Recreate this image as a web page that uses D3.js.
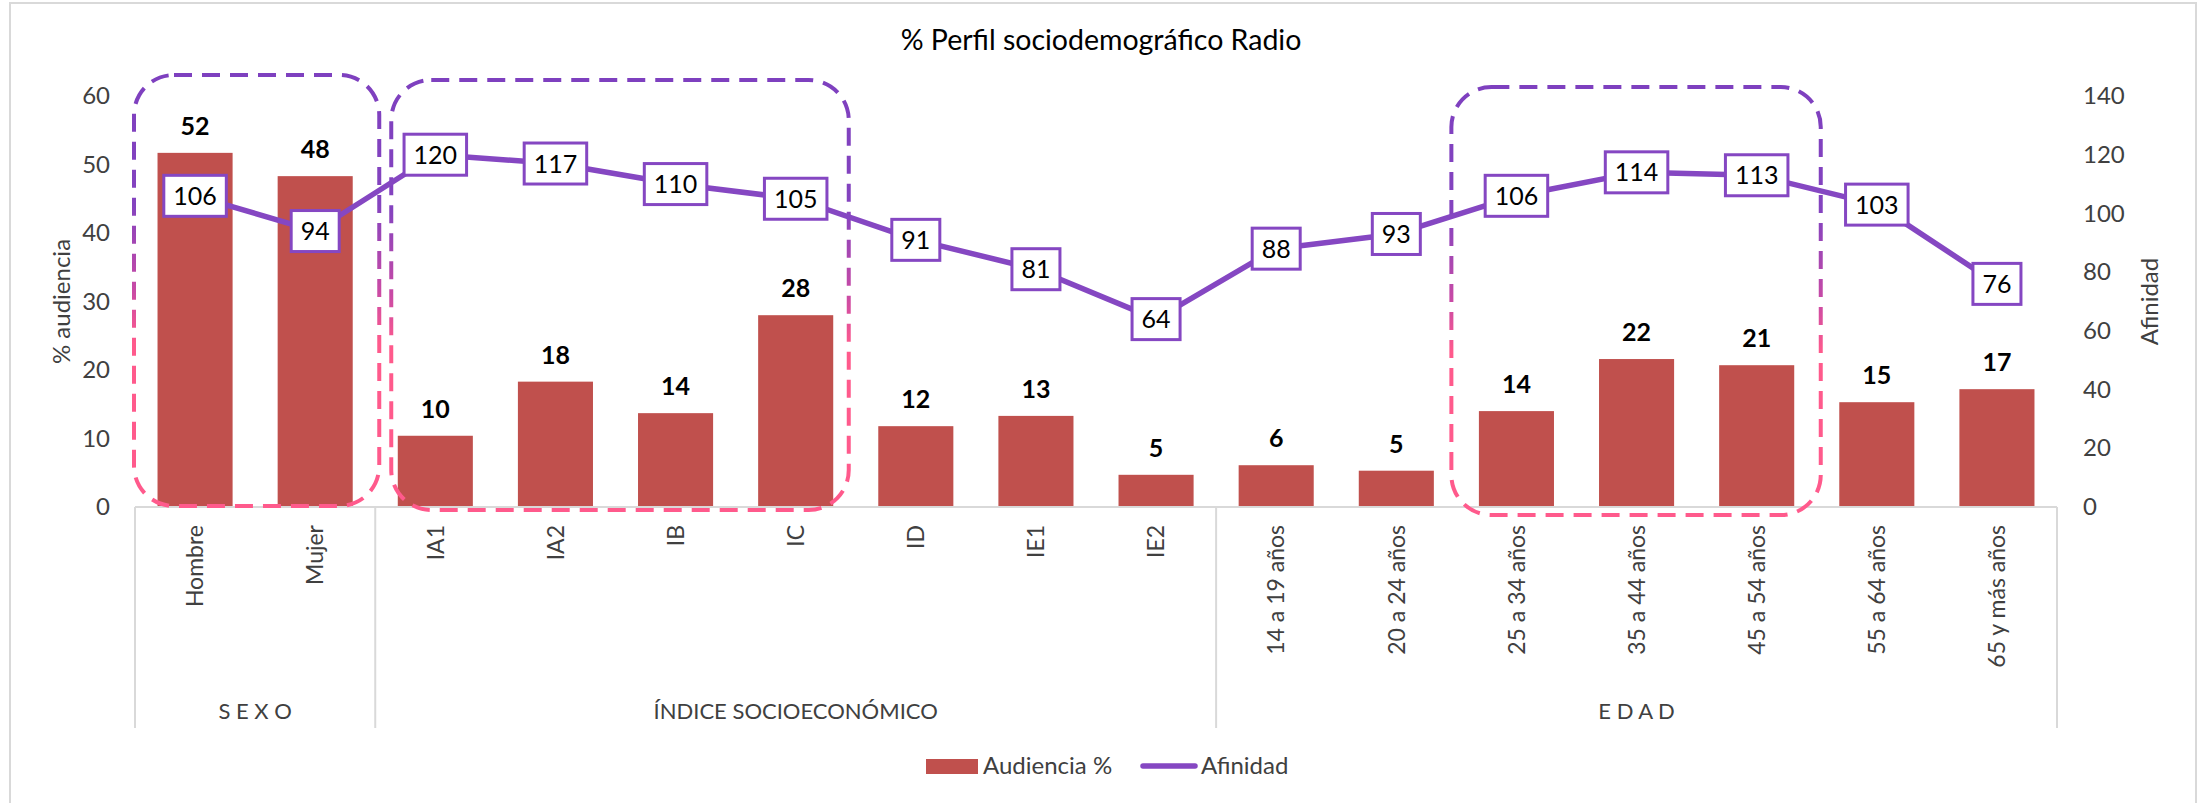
<!DOCTYPE html>
<html><head><meta charset="utf-8">
<script src="https://cdn.jsdelivr.net/npm/d3@7"></script>
<style>
body{margin:0;background:#fff;}
svg{display:block;}
text{font-family:Lato,"Open Sans",sans-serif;}
</style>
</head><body>
<svg id="chart" width="2204" height="803"></svg>
<script>
const categories = ["Hombre","Mujer","IA1","IA2","IB","IC","ID","IE1","IE2","14 a 19 años","20 a 24 años","25 a 34 años","35 a 44 años","45 a 54 años","55 a 64 años","65 y más años"];
const groupNames = ["S E X O","ÍNDICE SOCIOECONÓMICO","E D A D"];
const groupSizes = [2,7,7];
const audiencia = [51.7,48.3,10.4,18.3,13.7,28.0,11.8,13.3,4.7,6.1,5.3,14.0,21.6,20.7,15.3,17.2];
const afinidad = [106,94,120,117,110,105,91,81,64,88,93,106,114,113,103,76];
const leftTicks = [0,10,20,30,40,50,60];
const rightTicks = [0,20,40,60,80,100,120,140];
const highlightFrom = ["Hombre","IA1","25 a 34 años"];
const highlightTo = ["Mujer","IC","45 a 54 años"];
const title = "% Perfil sociodemográfico Radio";
const leftTitle = "% audiencia";
const rightTitle = "Afinidad";
const seriesNames = ["Audiencia %","Afinidad"];

const barColor = "#C0504D", lineColor = "#8547C2", textGray = "#404040", gridGray = "#d9d9d9";
const svg = d3.select("#chart");
const plot = {left:135, right:2057, top:96, bottom:507};

// chart frame
svg.append("rect").attr("x",10).attr("y",3).attr("width",2186).attr("height",830)
  .attr("fill","#fff").attr("stroke",gridGray).attr("stroke-width",2);

const x = d3.scaleBand().domain(categories).range([plot.left, plot.right]).padding(0);
const yL = d3.scaleLinear().domain([0,60]).range([plot.bottom, plot.top]);
const yR = d3.scaleLinear().domain([0,140]).range([plot.bottom, plot.top]);
const bw = x.bandwidth()*0.625;
const cx = c => x(c) + x.bandwidth()/2;

// title
svg.append("text").attr("x",(plot.left+plot.right)/2 + 5).attr("y",50).attr("text-anchor","middle")
  .attr("font-size",28.5).attr("fill","#000").text(title);

// left axis
const gL = svg.append("g").attr("transform",`translate(${plot.left},0)`)
  .call(d3.axisLeft(yL).tickValues(leftTicks).tickSize(0).tickPadding(25));
gL.select(".domain").remove();
gL.selectAll("text").attr("font-size",24).attr("fill",textGray).attr("font-family","Lato");
// right axis
const gR = svg.append("g").attr("transform",`translate(${plot.right},0)`)
  .call(d3.axisRight(yR).tickValues(rightTicks).tickSize(0).tickPadding(26));
gR.select(".domain").remove();
gR.selectAll("text").attr("font-size",24).attr("fill",textGray).attr("font-family","Lato");

// axis titles
svg.append("text").attr("transform",`translate(70,${(plot.top+plot.bottom)/2}) rotate(-90)`)
  .attr("text-anchor","middle").attr("font-size",24).attr("fill",textGray).text(leftTitle);
svg.append("text").attr("transform",`translate(2158,${(plot.top+plot.bottom)/2}) rotate(-90)`)
  .attr("text-anchor","middle").attr("font-size",24).attr("fill",textGray).text(rightTitle);

// bars
svg.append("g").selectAll("rect").data(categories).join("rect")
  .attr("x",c=>cx(c)-bw/2).attr("width",bw)
  .attr("y",(c,i)=>yL(audiencia[i])).attr("height",(c,i)=>yL(0)-yL(audiencia[i]))
  .attr("fill",barColor);

// x axis line
svg.append("line").attr("x1",plot.left).attr("x2",plot.right).attr("y1",plot.bottom).attr("y2",plot.bottom)
  .attr("stroke",gridGray).attr("stroke-width",2);

// group separators
let bounds = [0]; groupSizes.forEach(s=>bounds.push(bounds[bounds.length-1]+s));
const boundX = i => i < categories.length ? x(categories[i]) : plot.right;
svg.append("g").selectAll("line").data(bounds).join("line")
  .attr("x1",i=>boundX(i)).attr("x2",i=>boundX(i)).attr("y1",plot.bottom).attr("y2",728)
  .attr("stroke",gridGray).attr("stroke-width",2);

// category labels
svg.append("g").selectAll("text").data(categories).join("text")
  .attr("transform",c=>`translate(${cx(c)},525) rotate(-90)`)
  .attr("text-anchor","end").attr("dy","0.36em").attr("font-size",23).attr("fill",textGray).text(c=>c);

// group labels
svg.append("g").selectAll("text").data(groupNames).join("text")
  .attr("x",(g,i)=>(boundX(bounds[i])+boundX(bounds[i+1]))/2).attr("y",719)
  .attr("text-anchor","middle").attr("font-size",22).attr("fill",textGray).text(g=>g);

// highlight boxes
const defs = svg.append("defs");
const grad = defs.append("linearGradient").attr("id","hl").attr("x1",0).attr("y1",0).attr("x2",0).attr("y2",1);
grad.append("stop").attr("offset","0%").attr("stop-color","#7E40BF");
grad.append("stop").attr("offset","30%").attr("stop-color","#8443BF");
grad.append("stop").attr("offset","50%").attr("stop-color","#C94AA5");
grad.append("stop").attr("offset","62%").attr("stop-color","#FF5A8C");
grad.append("stop").attr("offset","100%").attr("stop-color","#FF5A8C");
const hlPadL = [-1,16,-5], hlPadR = [4,-7,4], hlTop = [75,80,87], hlBot = [506,510,515];
svg.append("g").selectAll("rect").data(highlightFrom).join("rect")
  .attr("x",(c,i)=>x(c)+hlPadL[i])
  .attr("width",(c,i)=>x(highlightTo[i])+x.bandwidth()+hlPadR[i]-(x(c)+hlPadL[i]))
  .attr("y",(c,i)=>hlTop[i]).attr("height",(c,i)=>hlBot[i]-hlTop[i])
  .attr("rx",40).attr("ry",40).attr("fill","none").attr("stroke","url(#hl)")
  .attr("stroke-width",4).attr("stroke-dasharray","18 10");

// bar value labels
svg.append("g").selectAll("text").data(categories).join("text")
  .attr("x",c=>cx(c)).attr("y",(c,i)=>yL(audiencia[i])-18).attr("text-anchor","middle")
  .attr("font-size",25).attr("font-weight","bold").attr("fill","#000")
  .text((c,i)=>d3.format(".0f")(audiencia[i]));

// line
const line = d3.line().x((d,i)=>cx(categories[i])).y(d=>yR(d));
svg.append("path").datum(afinidad).attr("d",line).attr("fill","none")
  .attr("stroke",lineColor).attr("stroke-width",5.5).attr("stroke-linejoin","round");

// line labels
const lbl = svg.append("g").selectAll("g").data(afinidad).join("g")
  .attr("transform",(d,i)=>`translate(${cx(categories[i])},${yR(d)})`);
lbl.append("rect").attr("fill","#fff").attr("stroke",lineColor).attr("stroke-width",3);
lbl.append("text").attr("text-anchor","middle").attr("dy","0.36em").attr("font-size",25).attr("fill","#000").text(d=>d);
lbl.each(function(){
  const g = d3.select(this); const w = g.select("text").node().getComputedTextLength();
  g.select("rect").attr("x",-(w+19)/2).attr("width",w+19).attr("y",-20.5).attr("height",41);
});

// legend
const leg = svg.append("g");
leg.append("rect").attr("x",926).attr("y",759).attr("width",52).attr("height",15).attr("fill",barColor);
leg.append("text").attr("x",983).attr("y",774).attr("font-size",24).attr("fill",textGray).text(seriesNames[0]);
leg.append("line").attr("x1",1143).attr("x2",1195).attr("y1",766).attr("y2",766)
  .attr("stroke",lineColor).attr("stroke-width",5.5).attr("stroke-linecap","round");
leg.append("text").attr("x",1201).attr("y",774).attr("font-size",24).attr("fill",textGray).text(seriesNames[1]);
</script>
</body></html>
